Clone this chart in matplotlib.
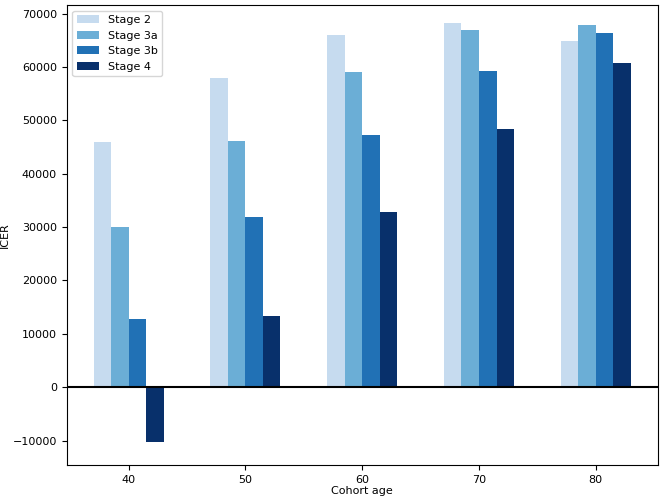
import numpy as np
import matplotlib
matplotlib.use('Agg')
import matplotlib.pyplot as plt

ages = [40, 50, 60, 70, 80]
stage_labels = ['Stage 2', 'Stage 3a', 'Stage 3b', 'Stage 4']
stage2 = [46000, 58000, 65900, 68300, 64800]
stage3a = [30000, 46100, 59000, 66900, 67900]
stage3b = [12800, 31800, 47200, 59300, 66300]
stage4 = [-10300, 13400, 32800, 48300, 60700]
colors = ['#c6dbef', '#6baed6', '#2171b5', '#08306b']

plt.rcParams['font.size'] = 8

fig, ax = plt.subplots(figsize=(6.61, 4.99), dpi=100)
x = np.array(ages, dtype=float)
width = 1.5
for i, vals in enumerate([stage2, stage3a, stage3b, stage4]):
    ax.bar(x + (i - 1.5) * width, vals, width, color=colors[i], label=stage_labels[i])
ax.axhline(0, color='black', linewidth=1.5)
ax.set_xticks(ages)
ax.set_ylim(-14600, 71600)
ax.set_xlabel('Cohort age', labelpad=1)
ax.set_ylabel('ICER', labelpad=2)
ax.legend(loc='upper left')
fig.subplots_adjust(left=0.101, right=0.995, top=0.99, bottom=0.068)
fig.savefig('out.png', dpi=100)
